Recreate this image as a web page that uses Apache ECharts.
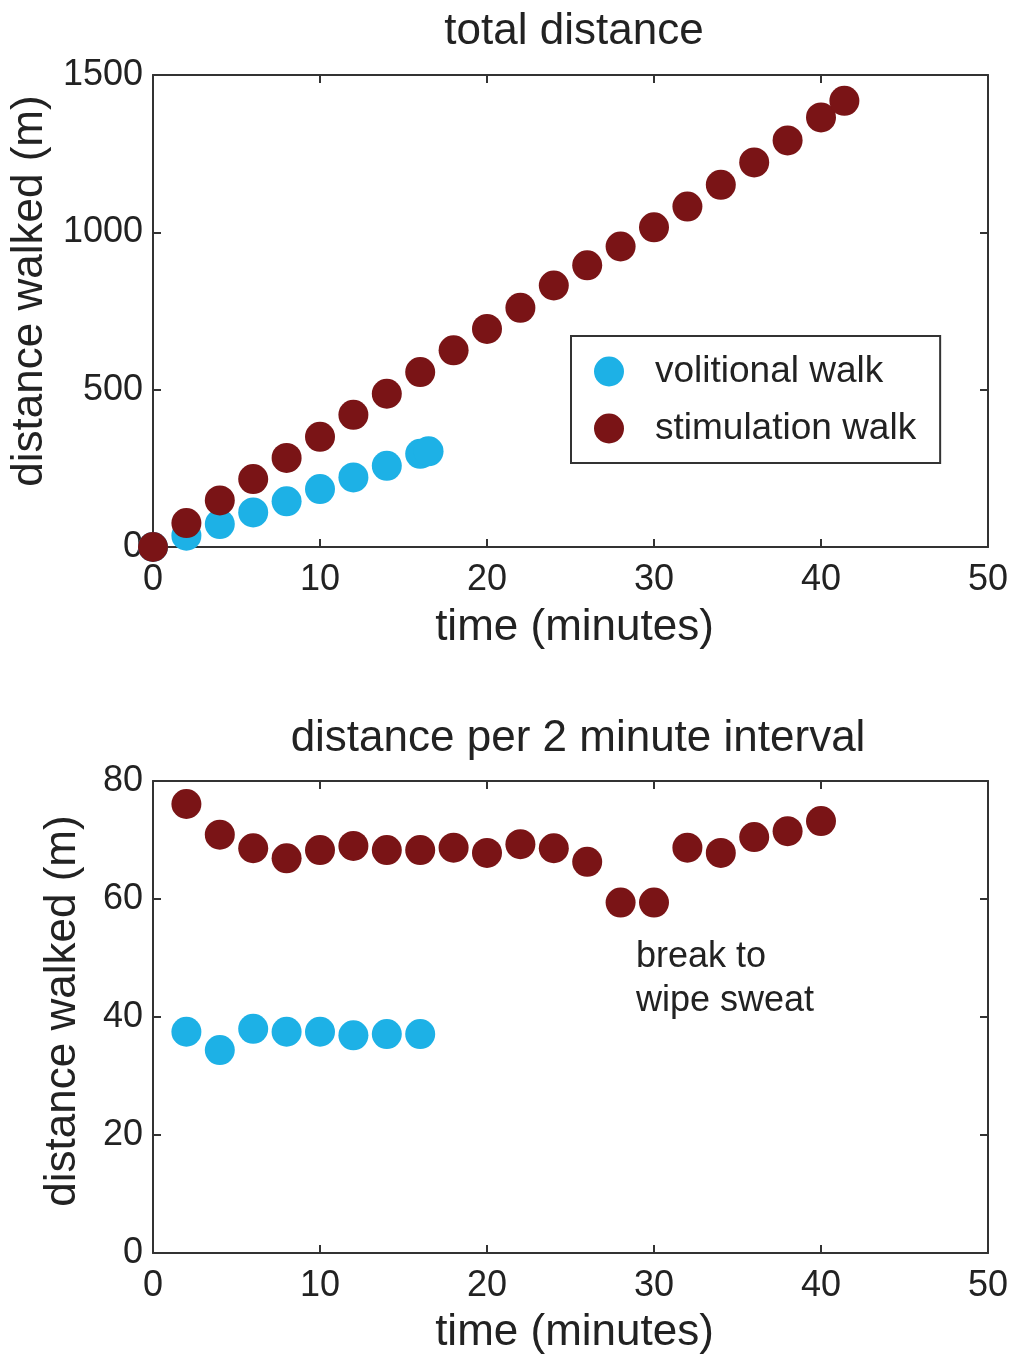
<!DOCTYPE html>
<html>
<head>
<meta charset="utf-8">
<script src="https://cdn.jsdelivr.net/npm/echarts@6/dist/echarts.min.js"></script>
<style>
html,body{margin:0;padding:0;background:#fff;}
#chart{width:1017px;height:1357px;}
</style>
</head>
<body>
<div id="chart"></div>
<script>
// ---- data ----
const timeTotalVol = [0, 2, 4, 6, 8, 10, 12, 14, 16, 16.5];
const totalVol = [0, 36, 73, 110, 145, 184, 221, 258, 296, 304];
const timeTotalStim = [0, 2, 4, 6, 8, 10, 12, 14, 16, 18, 20, 22, 24, 26, 28, 30, 32, 34, 36, 38, 40, 41.4];
const totalStim = [0, 76, 148, 216, 283, 350, 420, 487, 556, 625, 693, 760, 831, 895, 955, 1016, 1082, 1151, 1222, 1292, 1365, 1418];
const timeIntVol = [2, 4, 6, 8, 10, 12, 14, 16];
const intervalVol = [37.5, 34.4, 38.0, 37.5, 37.5, 36.9, 37.1, 37.1];
const timeIntStim = [2, 4, 6, 8, 10, 12, 14, 16, 18, 20, 22, 24, 26, 28, 30, 32, 34, 36, 38, 40];
const intervalStim = [76.1, 70.9, 68.6, 66.9, 68.3, 69.0, 68.3, 68.3, 68.7, 67.8, 69.3, 68.6, 66.3, 59.4, 59.4, 68.7, 67.8, 70.5, 71.5, 73.2];
const xTicks = {min: 0, max: 50, interval: 10};
const yTicksTop = {min: 0, max: 1500, interval: 500};
const yTicksBottom = {min: 0, max: 80, interval: 20};
const seriesNames = ['volitional walk', 'stimulation walk'];
const titles = ['total distance', 'distance per 2 minute interval'];
const xName = 'time (minutes)';
const yName = 'distance walked (m)';
const noteLines = ['break to', 'wipe sweat'];

// ---- style ----
const FONT = '"Liberation Sans", Arial, Helvetica, sans-serif';
const TXT = '#222';
const AX = '#333';
const COLORS = ['#1DB1E6', '#7A1416'];

function zip(a, b) { return a.map((v, i) => [v, b[i]]); }
const plain = v => String(v);

function lineStyle() { return {show: true, onZero: false, lineStyle: {color: AX, width: 2}}; }
function tickStyle() { return {show: true, inside: true, length: 8, lineStyle: {color: AX, width: 2}}; }

function mainX(gi, gap) {
  return {
    type: 'value', gridIndex: gi, position: 'bottom',
    min: xTicks.min, max: xTicks.max, interval: xTicks.interval,
    name: xName, nameLocation: 'middle', nameGap: gap,
    nameTextStyle: {fontFamily: FONT, fontSize: 44, color: TXT, padding: [0, 0, 0, 8]},
    axisLine: lineStyle(), axisTick: tickStyle(),
    axisLabel: {fontFamily: FONT, fontSize: 36, color: TXT, margin: 15, formatter: plain},
    splitLine: {show: false}
  };
}
function mirrorX(gi) {
  return {
    type: 'value', gridIndex: gi, position: 'top',
    min: xTicks.min, max: xTicks.max, interval: xTicks.interval,
    axisLine: lineStyle(), axisTick: tickStyle(),
    axisLabel: {show: false}, splitLine: {show: false}
  };
}
function mainY(gi, t, gap, shift) {
  return {
    type: 'value', gridIndex: gi, position: 'left',
    min: t.min, max: t.max, interval: t.interval,
    name: yName, nameLocation: 'middle', nameGap: gap,
    nameTextStyle: {fontFamily: FONT, fontSize: 44, color: TXT, padding: [0, 0, 0, shift]},
    axisLine: lineStyle(), axisTick: tickStyle(),
    axisLabel: {fontFamily: FONT, fontSize: 36, color: TXT, margin: 10, formatter: plain},
    splitLine: {show: false}
  };
}
function mirrorY(gi, t) {
  return {
    type: 'value', gridIndex: gi, position: 'right',
    min: t.min, max: t.max, interval: t.interval,
    axisLine: lineStyle(), axisTick: tickStyle(),
    axisLabel: {show: false}, splitLine: {show: false}
  };
}
function scatter(name, color, data, gi) {
  return {
    type: 'scatter', name: name, xAxisIndex: gi, yAxisIndex: gi,
    data: data, symbol: 'circle', symbolSize: 30, clip: false,
    itemStyle: {color: color, opacity: 1}, emphasis: {disabled: true},
    animation: false
  };
}

const chart = echarts.init(document.getElementById('chart'), null, {renderer: 'canvas'});
chart.setOption({
  backgroundColor: '#fff',
  animation: false,
  textStyle: {fontFamily: FONT},
  grid: [
    {left: 153, right: 29, top: 75, height: 472, containLabel: false, outerBoundsMode: 'none'},
    {left: 153, right: 29, top: 781, height: 472, containLabel: false, outerBoundsMode: 'none'}
  ],
  xAxis: [mainX(0, 59), mainX(1, 58), mirrorX(0), mirrorX(1)],
  yAxis: [mainY(0, yTicksTop, 91, 40), mainY(1, yTicksBottom, 68, 12), mirrorY(0, yTicksTop), mirrorY(1, yTicksBottom)],
  legend: {
    show: true, orient: 'vertical', left: 571, top: 336,
    data: seriesNames,
    icon: 'circle', itemWidth: 30, itemHeight: 30, itemGap: 20,
    padding: [17, 24, 16, 23],
    borderColor: AX, borderWidth: 2, backgroundColor: '#fff',
    textStyle: {fontFamily: FONT, fontSize: 37, color: TXT, padding: [0, 0, 0, 26]},
    selectedMode: false
  },
  graphic: [
    {type: 'text', x: 574, y: 32, style: {text: titles[0], font: '44px ' + FONT, fill: TXT, textAlign: 'center', textVerticalAlign: 'middle'}},
    {type: 'text', x: 578, y: 739, style: {text: titles[1], font: '44px ' + FONT, fill: TXT, textAlign: 'center', textVerticalAlign: 'middle'}},
    {type: 'text', x: 636, y: 935, style: {text: noteLines.join('\n'), font: '36px ' + FONT, fill: TXT, lineHeight: 44}}
  ],
  series: [
    scatter(seriesNames[0], COLORS[0], zip(timeTotalVol, totalVol), 0),
    scatter(seriesNames[1], COLORS[1], zip(timeTotalStim, totalStim), 0),
    scatter(seriesNames[0], COLORS[0], zip(timeIntVol, intervalVol), 1),
    scatter(seriesNames[1], COLORS[1], zip(timeIntStim, intervalStim), 1)
  ]
});
</script>
</body>
</html>
